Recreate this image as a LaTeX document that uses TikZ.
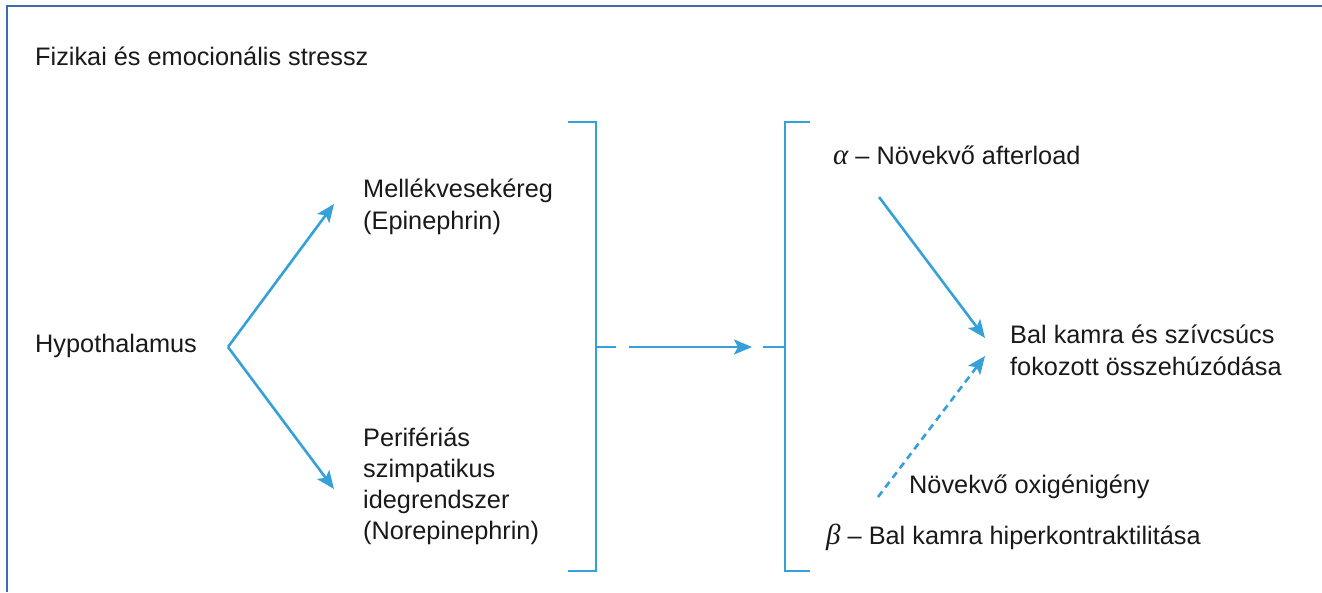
\documentclass[tikz,border=0pt]{standalone}
\usepackage{fontspec}
\setmainfont{Liberation Sans}
\newfontfamily\grkfont{Liberation Serif}
\usetikzlibrary{arrows.meta}
\definecolor{lineblue}{RGB}{54,160,217}
\definecolor{frameblue}{RGB}{62,106,176}
\definecolor{txt}{RGB}{25,25,25}
\newcommand{\greek}[1]{{\grkfont\itshape\fontsize{29}{32}\selectfont #1}}
\begin{document}
\begin{tikzpicture}[x=1pt,y=-1pt,
  lbl/.style={anchor=base west,inner sep=0pt,text=txt,font=\fontsize{25.3}{32}\selectfont},
  conn/.style={draw=lineblue,line width=2.6pt},
  arr/.style={conn,-{Stealth[length=18pt,width=15pt,inset=4pt]}},
  brk/.style={draw=lineblue,line width=2.6pt},
  frm/.style={draw=frameblue,line width=2pt}]
\useasboundingbox (0,0) rectangle (1322,592);
% frame
\draw[frm] (7,592) -- (7,6) -- (1322,6);
% texts
\node[lbl] (stress) at (35,65) {Fizikai és emocionális stressz};
\node[lbl] (hypo) at (35,352) {Hypothalamus};
\node[lbl] (mel1) at (363,197) {Mellékvesekéreg};
\node[lbl] (mel2) at (363,229) {(Epinephrin)};
\node[lbl] (per1) at (363,446) {Perifériás};
\node[lbl] (per2) at (363,477) {szimpatikus};
\node[lbl] (per3) at (363,508) {idegrendszer};
\node[lbl] (per4) at (363,539) {(Norepinephrin)};
\node[lbl] (alpha) at (833,164) {\greek{α} – Növekvő afterload};
\node[lbl] (bal1) at (1010,343) {Bal kamra és szívcsúcs};
\node[lbl] (bal2) at (1010,375) {fokozott összehúzódása};
\node[lbl] (oxi) at (909,493) {Növekvő oxigénigény};
\node[lbl] (beta) at (826,544) {\greek{β} – Bal kamra hiperkontraktilitása};
% brackets
\draw[brk] (568,122) -- (596,122) -- (596,571) -- (568,571);
\draw[brk] (810,122) -- (785,122) -- (785,571) -- (810,571);
% coordinates
\coordinate (hv) at (228,347);
\coordinate (melTip) at (334,204);
\coordinate (perTip) at (334,489);
\coordinate (lb) at (596,347);
\coordinate (lbEnd) at (616,347);
\coordinate (midStart) at (629,347);
\coordinate (midTip) at (752,347);
\coordinate (rbStart) at (763,347);
\coordinate (rb) at (785,347);
\coordinate (aStart) at (879,197);
\coordinate (aTip) at (985,338);
\coordinate (oStart) at (878,497);
\coordinate (oTip) at (985,356);
% connectors
\draw[arr] (hv) -- (melTip);
\draw[arr] (hv) -- (perTip);
\draw[conn] (lb) -- (lbEnd);
\draw[arr] (midStart) -- (midTip);
\draw[conn] (rbStart) -- (rb);
\draw[arr] (aStart) -- (aTip);
\draw[arr,dash pattern=on 7pt off 5pt] (oStart) -- (oTip);
\end{tikzpicture}
\end{document}
